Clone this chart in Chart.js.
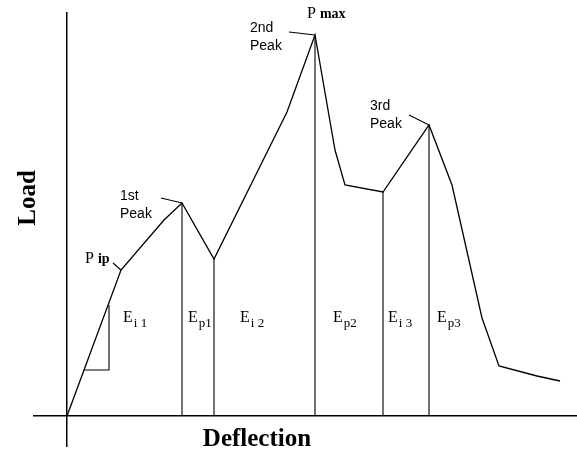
<!DOCTYPE html>
<html>
<head>
<meta charset="utf-8">
<script src="https://cdn.jsdelivr.net/npm/chart.js@4"></script>
<style>
  html, body { margin: 0; padding: 0; background: #fff; }
  #wrap { width: 577px; height: 451px; }
</style>
</head>
<body>
<div id="wrap"><canvas id="c" width="577" height="451"></canvas></div>
<script>
// Load–deflection curve with three peaks
const deflection = [0, 5.4, 9.7, 11.5, 14.7, 22.0, 24.8, 26.8, 27.8, 31.6, 36.2, 38.5, 41.5, 43.2, 47.0, 49.3];
const load       = [0, 14.6, 19.6, 21.3, 15.7, 30.4, 38.1, 26.6, 23.1, 22.4, 29.1, 23.1, 9.8, 5.0, 4.0, 3.5];

// curve points that get a vertical line down to the deflection axis
const dropIndex = [3, 4, 6, 9, 10];

// slope triangle on the initial branch
const slopeX = [1.7, 4.2, 4.2];
const slopeY = [4.6, 4.6, 11.1];

// energy regions between the vertical lines
const regionMain = ['E', 'E', 'E', 'E', 'E', 'E'];
const regionSub  = ['i 1', 'p1', 'i 2', 'p2', 'i 3', 'p3'];
const regionAt   = [5.6, 12.1, 17.3, 26.6, 32.1, 37.0];

// peak names
const peakNames = [['1st', 'Peak'], ['2nd', 'Peak'], ['3rd', 'Peak']];

const curve = deflection.map((x, i) => ({ x, y: load[i] }));

const drops = [];
dropIndex.forEach(i => {
  drops.push({ x: deflection[i], y: 0 }, { x: deflection[i], y: load[i] }, { x: deflection[i], y: null });
});

const triangle = [
  { x: slopeX[0], y: slopeY[0] }, { x: slopeX[1], y: slopeY[1] }, { x: slopeX[2], y: slopeY[2] }
];

// short pointer strokes from the peak names to their peaks
const leaders = [
  { x: 9.4, y: 21.8 }, { x: deflection[3], y: load[3] }, { x: 0, y: null },
  { x: 22.2, y: 38.4 }, { x: deflection[6], y: load[6] }, { x: 0, y: null },
  { x: 34.2, y: 30.1 }, { x: deflection[10], y: load[10] }, { x: 0, y: null },
  { x: 4.6, y: 15.3 }, { x: deflection[1], y: load[1] }
];

const lineSet = (data, w) => ({
  data, showLine: true, spanGaps: false, borderColor: '#000', borderWidth: w,
  pointRadius: 0, fill: false, tension: 0
});

const SERIF = '"Liberation Serif", "Times New Roman", serif';
const SANS = '"Liberation Sans", Arial, sans-serif';

const textPlugin = {
  id: 'texts',
  afterDraw(chart) {
    const { ctx, scales: { x, y } } = chart;
    const px = v => x.getPixelForValue(v);
    const py = v => y.getPixelForValue(v);
    ctx.save();
    ctx.fillStyle = '#000';
    ctx.textBaseline = 'alphabetic';
    ctx.textAlign = 'left';

    // peak names
    ctx.font = '14px ' + SANS;
    const peakAt = [[5.3, 21.6], [18.3, 38.4], [30.3, 30.6]];
    peakNames.forEach((lines, k) => {
      lines.forEach((t, j) => ctx.fillText(t, px(peakAt[k][0]), py(peakAt[k][1]) + j * 17.5));
    });

    // P max and P ip
    const tagged = (main, sub, xv, yv) => {
      ctx.font = '16px ' + SERIF;
      const x0 = px(xv), y0 = py(yv);
      ctx.fillText(main, x0, y0);
      const w = ctx.measureText(main + ' ').width;
      ctx.font = 'bold 14px ' + SERIF;
      ctx.fillText(sub, x0 + w, y0);
    };
    tagged('P', 'max', 24.0, 39.8);
    tagged('P', 'ip', 1.8, 15.3);

    // region labels with subscripts
    regionMain.forEach((m, k) => {
      const x0 = px(regionAt[k]), y0 = py(9.4);
      ctx.font = '16px ' + SERIF;
      ctx.fillText(m, x0, y0);
      const w = ctx.measureText(m).width;
      ctx.font = '13px ' + SERIF;
      ctx.fillText(regionSub[k], x0 + w + 1, y0 + 5);
    });

    // axis titles
    ctx.font = 'bold 25px ' + SERIF;
    ctx.textAlign = 'center';
    ctx.fillText('Deflection', px(19.0), py(-3.0));
    ctx.translate(px(-3.2), py(21.8));
    ctx.rotate(-Math.PI / 2);
    ctx.fillText('Load', 0, 0);
    ctx.restore();
  }
};

const zeroOnly = s => { s.ticks = [{ value: 0 }]; };

new Chart(document.getElementById('c'), {
  type: 'scatter',
  data: {
    datasets: [
      lineSet(curve, 1.3),
      lineSet(drops, 1.1),
      lineSet(triangle, 1.1),
      lineSet(leaders, 1.1)
    ]
  },
  options: {
    responsive: false,
    animation: false,
    layout: { padding: { left: 33, right: 0, top: 12, bottom: 4 } },
    plugins: { legend: { display: false }, tooltip: { enabled: false } },
    scales: {
      x: {
        type: 'linear', min: -3.4, max: 51,
        afterBuildTicks: zeroOnly,
        ticks: { display: false },
        grid: { color: '#000', lineWidth: 1.5, drawTicks: false },
        border: { display: false }
      },
      y: {
        type: 'linear', min: -3.1, max: 40.4,
        afterBuildTicks: zeroOnly,
        ticks: { display: false },
        grid: { color: '#000', lineWidth: 1.5, drawTicks: false },
        border: { display: false }
      }
    }
  },
  plugins: [textPlugin]
});
</script>
</body>
</html>
